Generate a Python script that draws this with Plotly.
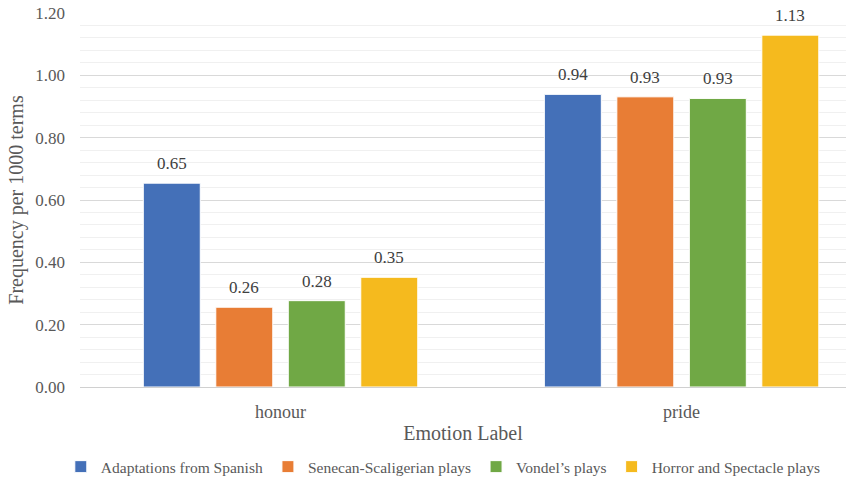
import plotly.graph_objects as go

categories = ["honour", "pride"]
series_names = ["Adaptations from Spanish", "Senecan-Scaligerian plays", "Vondel\u2019s plays", "Horror and Spectacle plays"]
adaptations = [0.654, 0.939]
senecan = [0.256, 0.931]
vondel = [0.277, 0.926]
horror = [0.352, 1.129]
labels_adapt = ["0.65", "0.94"]
labels_senecan = ["0.26", "0.93"]
labels_vondel = ["0.28", "0.93"]
labels_horror = ["0.35", "1.13"]
y_ticks = [0.0, 0.2, 0.4, 0.6, 0.8, 1.0, 1.2]
y_tick_text = ["0.00", "0.20", "0.40", "0.60", "0.80", "1.00", "1.20"]

colors = ["#4470B8", "#E87D35", "#70A845", "#F5BA1E"]
values = [adaptations, senecan, vondel, horror]
labels = [labels_adapt, labels_senecan, labels_vondel, labels_horror]

FONT = "Times New Roman"
bargap = 0.277
bargroupgap = 0.214

fig = go.Figure()
for name, vals, col in zip(series_names, values, colors):
    fig.add_trace(go.Bar(
        x=categories, y=vals, name=name,
        marker=dict(color=col, line=dict(color="white", width=1)),
        hoverinfo="skip",
    ))

slot = (1 - bargap) / len(values)
for i, (vals, labs) in enumerate(zip(values, labels)):
    for ci, (v, t) in enumerate(zip(vals, labs)):
        fig.add_annotation(
            x=ci + (i - (len(values) - 1) / 2) * slot, y=v, text=t,
            xref="x", yref="y", showarrow=False, yanchor="bottom", yshift=8,
            font=dict(family=FONT, size=17, color="#404040"),
        )

fig.update_layout(
    width=846, height=483,
    margin=dict(l=80, r=0, t=13, b=96, autoexpand=False),
    paper_bgcolor="white", plot_bgcolor="white",
    barmode="group", bargap=bargap, bargroupgap=bargroupgap,
    font=dict(family=FONT, color="#595959"),
    showlegend=True,
    legend=dict(
        orientation="h", x=0.524, xanchor="center", xref="container",
        y=0.033, yanchor="middle", yref="container",
        font=dict(family=FONT, size=15.5, color="#595959"),
        itemwidth=30, traceorder="normal",
    ),
)

fig.update_xaxes(
    type="category", range=[-0.5, 1.41], automargin=False,
    showgrid=False, showline=False, zeroline=False,
    ticks="", tickfont=dict(family=FONT, size=18, color="#595959"),
    ticklabelstandoff=12,
    title=dict(text="Emotion Label", font=dict(family=FONT, size=20, color="#595959"), standoff=4),
)
fig.update_yaxes(
    range=[0, 1.2], tickvals=y_ticks, ticktext=y_tick_text, automargin=False,
    showgrid=True, gridcolor="#d9d9d9", gridwidth=1,
    minor=dict(dtick=0.04, showgrid=True, gridcolor="#f0f0f0", gridwidth=1),
    zeroline=True, zerolinecolor="#d0d0d0", zerolinewidth=1,
    showline=False, ticks="",
    tickfont=dict(family=FONT, size=17, color="#595959"),
    ticklabelstandoff=14,
    title=dict(text="Frequency per 1000 terms", font=dict(family=FONT, size=20, color="#595959"), standoff=6),
)

fig.write_html("out.html")
